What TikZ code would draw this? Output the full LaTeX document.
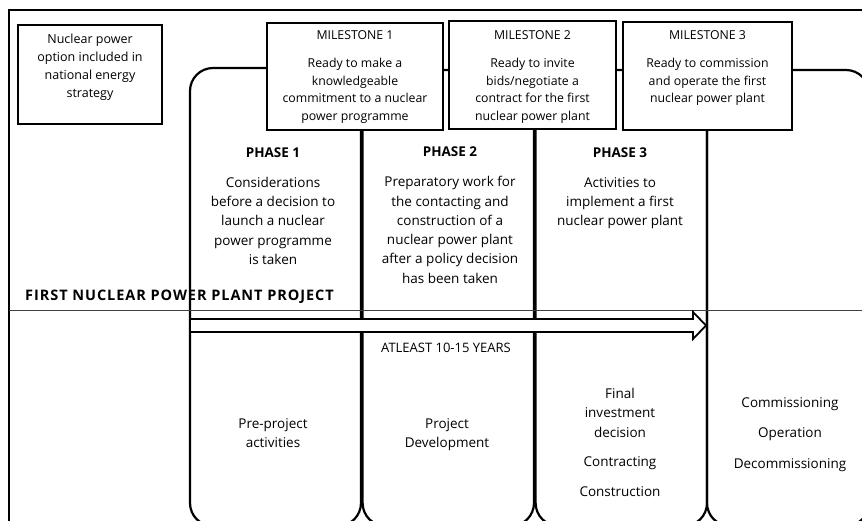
\documentclass[tikz,border=0pt]{standalone}
\usepackage{fontspec}
\setmainfont{Open Sans}
\newfontfamily\spacedfont[LetterSpace=6.5]{Open Sans}
\begin{document}
\begin{tikzpicture}[x=1pt,y=-1pt,
  frame/.style={line width=2pt},
  col/.style={draw, line width=2.2pt, rounded corners=23pt},
  sbox/.style={draw, line width=1.8pt, fill=white, inner sep=0pt},
  mtext/.style={align=center, anchor=north, inner sep=0pt, font=\fontsize{12.3}{17.5}\selectfont},
  ptext/.style={align=center, anchor=north, inner sep=0pt, font=\fontsize{13.5}{19.3}\selectfont},
  btext/.style={align=center, anchor=north, inner sep=0pt, font=\fontsize{13.5}{19.5}\selectfont},
  arrowbody/.style={line width=1.8pt, fill=white},
  thin/.style={line width=0.9pt, black!75}
]
\clip (0,0) rectangle (862,521);
% outer frame
\draw[frame] (9,540) -- (9,10) -- (880,10);
% phase columns
\draw[col] (190,526) rectangle (361,68);
\draw[col] (362.6,70) rectangle (534,526);
\draw[col] (535.6,70) rectangle (707,526);
\draw[col] (707,70) rectangle (869,526);
% horizontal divider
\draw[thin] (9,310) -- (862,310);
% duration arrow
\draw[arrowbody] (191,319) -- (693,319) -- (693,312) -- (706,325.5) -- (693,339) -- (693,332) -- (191,332);
% boxes
\node[sbox, minimum width=144pt, minimum height=99pt] (opt) at (90,74.5) {};
\node[sbox, minimum width=176pt, minimum height=107pt] (m1) at (355,76.5) {};
\node[sbox, minimum width=167pt, minimum height=108pt] (m2) at (532.5,75) {};
\node[sbox, minimum width=169pt, minimum height=108pt] (m3) at (707.5,76) {};
% box texts
\node[mtext, font=\fontsize{12.5}{17.8}\selectfont] (optt) at (90,34) {Nuclear power\\option included in\\national energy\\strategy};
\node[mtext] (m1t) at (355,30) {MILESTONE 1\\[11pt]Ready to make a\\knowledgeable\\commitment to a nuclear\\power programme};
\node[mtext] (m2t) at (532.5,30) {MILESTONE 2\\[11pt]Ready to invite\\bids/negotiate a\\contract for the first\\nuclear power plant};
\node[mtext] (m3t) at (707.5,30) {MILESTONE 3\\[11pt]Ready to commission\\and operate the first\\nuclear power plant};
% phase texts
\node[ptext] (p1) at (273,147.5) {\textbf{PHASE 1}\\[10.5pt]Considerations\\before a decision to\\launch a nuclear\\power programme\\is taken};
\node[ptext] (p2) at (450,147) {\textbf{PHASE 2}\\[10.5pt]Preparatory work for\\the contacting and\\construction of a\\nuclear power plant\\after a policy decision\\has been taken};
\node[ptext] (p3) at (620,147.5) {\textbf{PHASE 3}\\[10.5pt]Activities to\\implement a first\\nuclear power plant};
% project title
\node[anchor=west, inner sep=0pt, font=\spacedfont\fontsize{14.5}{17}\selectfont\bfseries] (proj) at (25,297) {FIRST NUCLEAR POWER PLANT PROJECT};
\node[inner sep=0pt, font=\fontsize{13}{16}\selectfont] (dur) at (446,348) {ATLEAST 10-15 YEARS};
% bottom texts
\node[btext] (b1) at (273,418) {Pre-project\\activities};
\node[btext] (b2) at (447,418) {Project\\Development};
\node[btext] (b3) at (620,388) {Final\\investment\\decision\\[9.5pt]Contracting\\[10.5pt]Construction};
\node[btext] (b4) at (790,397) {Commissioning\\[11pt]Operation\\[11pt]Decommissioning};
\end{tikzpicture}
\end{document}
